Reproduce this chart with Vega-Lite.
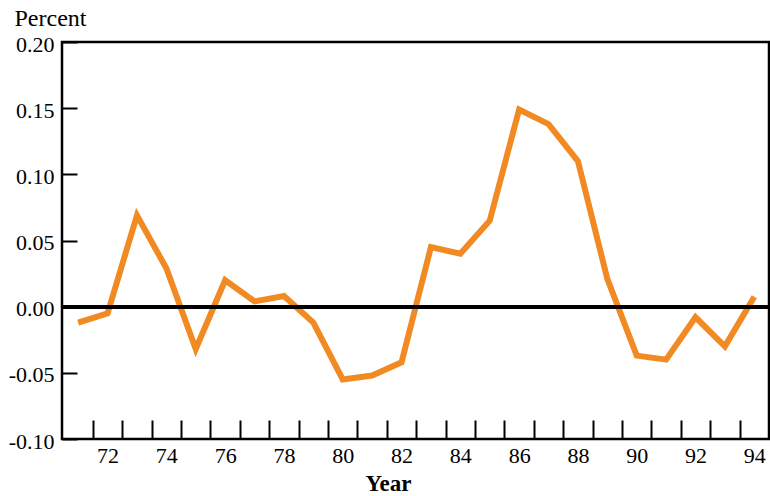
{
  "$schema": "https://vega.github.io/schema/vega-lite/v6.json",
  "width": 707,
  "height": 397,
  "autosize": {"type": "none"},
  "padding": {"left": 62, "top": 42, "right": 1, "bottom": 57},
  "config": {
    "view": {"stroke": "black", "strokeWidth": 2.5},
    "font": "Liberation Serif"
  },
  "data": {
    "values": [
      {"year": 71, "pct": -0.012},
      {"year": 72, "pct": -0.005},
      {"year": 73, "pct": 0.069},
      {"year": 74, "pct": 0.029},
      {"year": 75, "pct": -0.032},
      {"year": 76, "pct": 0.020},
      {"year": 77, "pct": 0.004},
      {"year": 78, "pct": 0.008},
      {"year": 79, "pct": -0.012},
      {"year": 80, "pct": -0.055},
      {"year": 81, "pct": -0.052},
      {"year": 82, "pct": -0.042},
      {"year": 83, "pct": 0.045},
      {"year": 84, "pct": 0.040},
      {"year": 85, "pct": 0.065},
      {"year": 86, "pct": 0.149},
      {"year": 87, "pct": 0.138},
      {"year": 88, "pct": 0.110},
      {"year": 89, "pct": 0.021},
      {"year": 90, "pct": -0.037},
      {"year": 91, "pct": -0.040},
      {"year": 92, "pct": -0.008},
      {"year": 93, "pct": -0.030},
      {"year": 94, "pct": 0.0075}
    ]
  },
  "layer": [
    {
      "mark": {"type": "line", "color": "#F28A24", "strokeWidth": 6},
      "encoding": {
        "x": {
          "field": "year",
          "type": "quantitative",
          "scale": {"domain": [70.45, 94.5], "nice": false, "zero": false},
          "axis": {
            "title": "Year",
            "titleFont": "Liberation Serif",
            "titleFontSize": 23,
            "titleFontWeight": "bold",
            "titleColor": "black",
            "titleX": 326,
            "titleY": 70,
            "titleAlign": "center",
            "titleBaseline": "alphabetic",
            "values": [71.5, 72.5, 73.5, 74.5, 75.5, 76.5, 77.5, 78.5, 79.5, 80.5, 81.5, 82.5, 83.5, 84.5, 85.5, 86.5, 87.5, 88.5, 89.5, 90.5, 91.5, 92.5, 93.5],
            "labelExpr": "(datum.value - 71.5) % 2 == 0 ? '' + (datum.value + 0.5) : ''",
            "labelOffset": 14.7,
            "labelFontSize": 22,
            "labelColor": "black",
            "labelPadding": 6,
            "labelOverlap": false,
            "labelFlush": false,
            "domain": false,
            "offset": -19,
            "tickSize": 19,
            "tickWidth": 2,
            "tickColor": "black",
            "grid": false
          }
        },
        "y": {
          "field": "pct",
          "type": "quantitative",
          "scale": {"domain": [-0.1, 0.2], "nice": false, "zero": false},
          "axis": {
            "title": "Percent",
            "titleFont": "Liberation Serif",
            "titleFontSize": 24,
            "titleFontWeight": "normal",
            "titleColor": "black",
            "titleAngle": 0,
            "titleX": -63,
            "titleY": -17,
            "titleAlign": "left",
            "titleBaseline": "alphabetic",
            "values": [-0.1, -0.05, 0, 0.05, 0.1, 0.15, 0.2],
            "labelExpr": "(datum.value < 0 ? '-' : '') + format(abs(datum.value), '.2f')",
            "labelFontSize": 22,
            "labelColor": "black",
            "labelPadding": 8,
            "labelOffset": 2,
            "labelOverlap": false,
            "labelFlush": false,
            "domain": false,
            "offset": -15,
            "tickSize": 15,
            "tickWidth": 2,
            "tickColor": "black",
            "grid": false
          }
        }
      }
    },
    {
      "mark": {"type": "rule", "color": "black", "strokeWidth": 3.5},
      "encoding": {"y": {"datum": 0}}
    }
  ]
}
